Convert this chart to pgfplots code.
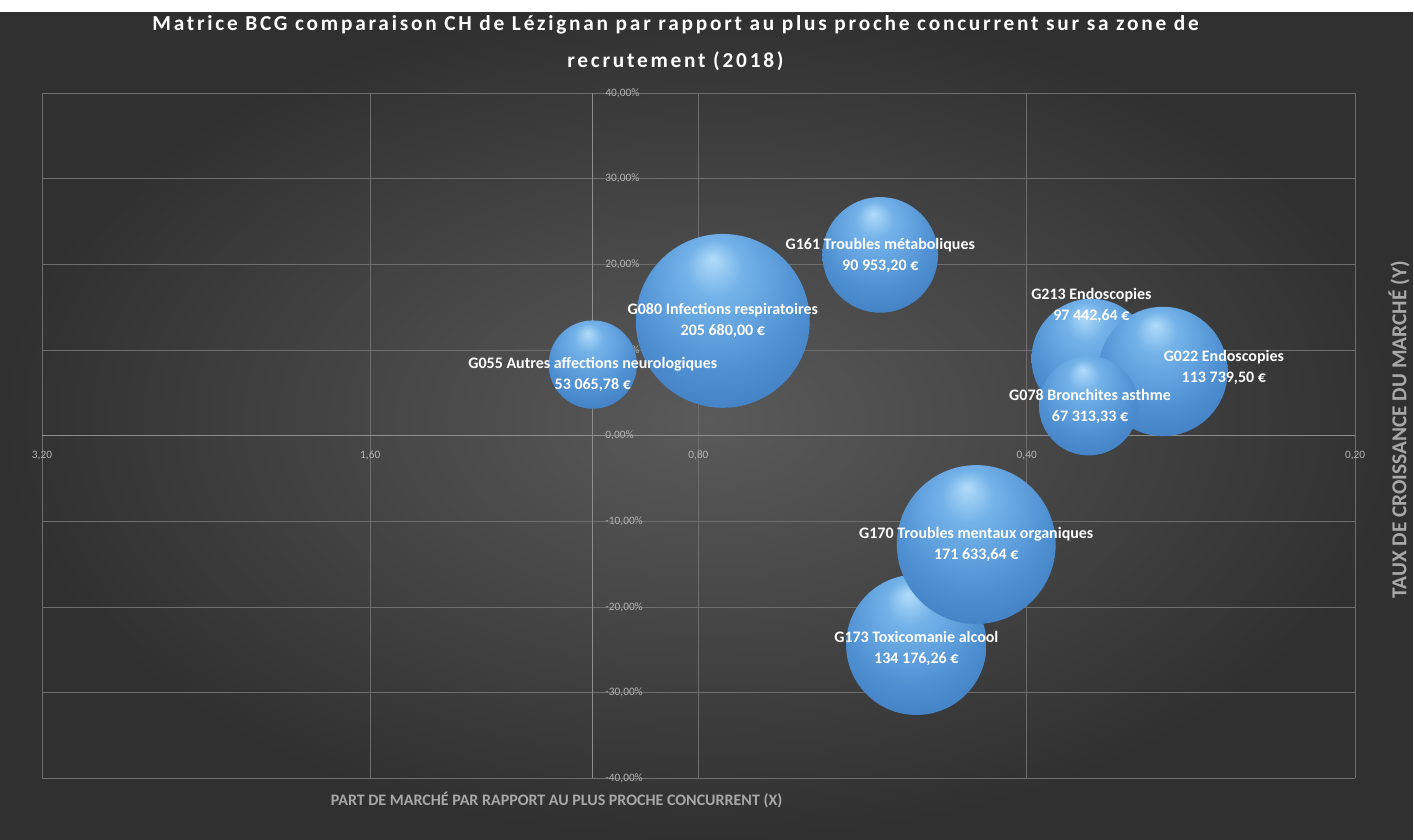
\documentclass[border=0pt]{standalone}
\usepackage{pgfplots}
\pgfplotsset{compat=1.18}
\usepackage{pgfplotstable}
\usepackage{fontspec}
\setmainfont{Carlito}
\definecolor{gridcol}{HTML}{6E6E6E}
\definecolor{axiscol}{HTML}{8E8E8E}
\definecolor{tickcol}{HTML}{B4B4B4}
\definecolor{titlecol}{HTML}{A8A8A8}
\definecolor{bgin}{HTML}{5A5A5A}
\definecolor{bgout}{HTML}{303030}
\definecolor{bhi}{HTML}{B2DCFA}
\definecolor{bmida}{HTML}{74B3E9}
\definecolor{bmidb}{HTML}{4F90D2}
\definecolor{bedge}{HTML}{3673B6}
\definecolor{bdark}{HTML}{1F4C80}
\pgfdeclareradialshading{bubbleshade}{\pgfpoint{-3bp}{18bp}}{color(0bp)=(bhi); color(8bp)=(bmida); color(24bp)=(bmidb); color(42bp)=(bedge); color(50bp)=(bdark)}
\pgfdeclareplotmark{bubble}{\pgfpathcircle{\pgfpointorigin}{\pgfplotmarksize}\pgfshadepath{bubbleshade}{0}\pgfusepath{}}
\pgfplotstableread{
x y vk
0.760 13.4 205.680
1.000 8.3 53.066
0.545 21.1 90.953
0.349 9.0 97.443
0.300 7.5 113.740
0.351 3.5 67.313
0.505 -24.4 134.176
0.445 -12.7 171.634
}\bubbles
\begin{document}
\begin{tikzpicture}
\shade[inner color=bgin, outer color=bgout] (-31.5pt,-45.75pt) rectangle (1029pt,584.25pt);
\fill[white] (-31.5pt,575.25pt) rectangle (1029pt,584.25pt);
\begin{axis}[
  at={(0,0)}, anchor=south west,
  scale only axis, width=985.5pt, height=514.5pt,
  xmode=log, log basis x=2, x dir=reverse,
  xmin=0.2, xmax=3.2, ymin=-40, ymax=40,
  xtick={0.2,0.4,0.8,1.6,3.2},
  xticklabels={{0,20},{0,40},{0,80},{1,60},{3,20}},
  ytick={-40,-30,-20,-10,0,10,20,30,40},
  yticklabels={{-40,00\%},{-30,00\%},{-20,00\%},{-10,00\%},{0,00\%},{10,00\%},{20,00\%},{30,00\%},{40,00\%}},
  axis lines=middle,
  axis line style={draw=axiscol, line width=0.75pt, -},
  grid=major, major grid style={draw=gridcol, line width=0.6pt},
  major tick length=0pt,
  hide obscured x ticks=false, hide obscured y ticks=false,
  xticklabel style={font=\fontsize{8.5}{10}\selectfont, text=tickcol, anchor=north, yshift=-8pt},
  yticklabel style={font=\fontsize{8.5}{10}\selectfont, text=tickcol, anchor=west, xshift=6pt},
  clip=false,
]
\addplot[scatter, only marks, mark=bubble, point meta=\thisrow{vk},
  visualization depends on={65.25*sqrt(\thisrow{vk}/205.68) \as \rad},
  scatter/@pre marker code/.append style={/tikz/mark size=\rad pt}]
  table[x=x, y=y] {\bubbles};
\coordinate (L080) at (axis cs:0.760,13.5);
\coordinate (L055) at (axis cs:1.0,7.1);
\coordinate (L161) at (axis cs:0.545,21.0);
\coordinate (L213) at (axis cs:0.349,15.2);
\coordinate (L022) at (axis cs:0.3025,8.0);
\coordinate (L078) at (axis cs:0.350,3.4);
\coordinate (L170) at (axis cs:0.445,-12.7);
\coordinate (L173) at (axis cs:0.505,-24.8);
\end{axis}
\begin{scope}[every node/.style={font=\bfseries\fontsize{12}{15.8}\selectfont, text=white, align=center}]
\node at (L080) {G080 Infections respiratoires\\205 680,00 €};
\node at (L055) {G055 Autres affections neurologiques\\53 065,78 €};
\node at (L161) {G161 Troubles métaboliques\\90 953,20 €};
\node at (L213) {G213 Endoscopies\\97 442,64 €};
\node[anchor=west] at (L022) {G022 Endoscopies\\113 739,50 €};
\node at (L078) {G078 Bronchites asthme\\67 313,33 €};
\node at (L170) {G170 Troubles mentaux organiques\\171 633,64 €};
\node at (L173) {G173 Toxicomanie alcool\\134 176,26 €};
\end{scope}
\node[font=\bfseries\fontsize{16}{27.75}\selectfont\addfontfeature{LetterSpace=13}, text=white, align=center] at (475.5pt,551.6pt) {Matrice BCG comparaison CH de Lézignan par rapport au plus proche concurrent sur sa zone de\\recrutement (2018)};
\node[font=\bfseries\fontsize{12}{14}\selectfont, text=titlecol] at (386.25pt,-16.5pt) {PART DE MARCHÉ PAR RAPPORT AU PLUS PROCHE CONCURRENT (X)};
\node[font=\bfseries\fontsize{16}{18}\selectfont, text=titlecol, rotate=90] at (1018.5pt,261.75pt) {TAUX DE CROISSANCE DU MARCHÉ (Y)};
\end{tikzpicture}
\end{document}
